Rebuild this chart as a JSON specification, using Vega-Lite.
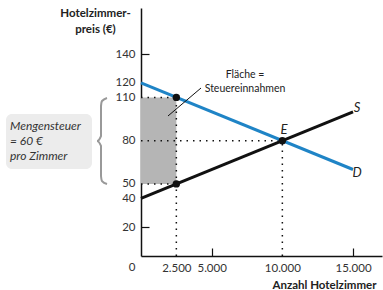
{
  "$schema": "https://vega.github.io/schema/vega-lite/v6.json",
  "width": 241,
  "height": 248,
  "autosize": {"type": "none"},
  "padding": {"left": 141, "top": 8, "right": 1, "bottom": 34},
  "config": {
    "view": {"stroke": null},
    "font": "Lato",
    "axis": {"grid": false, "domainColor": "#111", "domainWidth": 1.5, "labelFont": "Lato", "labelFontSize": 11.5, "labelColor": "#333", "tickWidth": 1.2, "tickSize": -8, "labelPadding": 14, "labelFlush": false, "labelOverlap": false, "titleFont": "Lato", "titleFontSize": 11.5, "titleFontWeight": "bold", "titleColor": "#222"}
  },
  "encoding": {
    "x": {"field": "x", "type": "quantitative", "scale": {"domain": [0, 17050], "nice": false},
      "axis": {"values": [2500, 5000, 10000, 15000], "labelOverlap": false, "labelExpr": "replace(format(datum.value, ',d'), ',', '.')",
        "tickColor": {"condition": {"test": "datum.value == 5000 || datum.value == 15000", "value": "#111"}, "value": "transparent"},
        "title": "Anzahl Hotelzimmer", "titleAnchor": "end", "titleAlign": "right", "titleX": 235, "titleY": 29, "titleBaseline": "middle"}},
    "y": {"field": "y", "type": "quantitative", "scale": {"domain": [0, 172], "nice": false},
      "axis": {"values": [0, 20, 40, 50, 80, 110, 120, 140], "labelOverlap": false,
        "labelOffset": {"condition": {"test": "datum.value == 0", "value": 11}, "value": 0},
        "tickColor": {"condition": {"test": "datum.value == 140 || datum.value == 20", "value": "#111"}, "value": "transparent"},
        "title": ["Hotelzimmer-", "preis (€)"], "titleAngle": 0, "titleAlign": "center", "titleBaseline": "top", "titleX": -46, "titleY": -1, "titleLineHeight": 16}}
  },
  "layer": [
    {
      "data": {"values": [{"x": 0, "x2": 2500, "y": 50, "y2": 110}]},
      "mark": {"type": "rect", "fill": "#b5b5b5"},
      "encoding": {"x2": {"field": "x2"}, "y2": {"field": "y2"}}
    },
    {
      "data": {"values": [
        {"x": 0, "x2": 2500, "y": 110, "y2": 110},
        {"x": 0, "x2": 2500, "y": 50, "y2": 50},
        {"x": 2500, "x2": 2500, "y": 0, "y2": 110},
        {"x": 0, "x2": 10000, "y": 80, "y2": 80},
        {"x": 10000, "x2": 10000, "y": 0, "y2": 80}
      ]},
      "mark": {"type": "rule", "color": "#111", "strokeWidth": 1.5, "strokeDash": [1.5, 5]},
      "encoding": {"x2": {"field": "x2"}, "y2": {"field": "y2"}}
    },
    {
      "data": {"values": [{"x": -9551, "x2": -3467, "y": 60.3, "y2": 98.5}]},
      "mark": {"type": "rect", "fill": "#ececec", "cornerRadius": 6},
      "encoding": {"x2": {"field": "x2"}, "y2": {"field": "y2"}}
    },
    {
      "data": {"values": [
        {"i": 1, "x": -2405, "y": 109.6},
        {"i": 2, "x": -2759, "y": 107.5},
        {"i": 3, "x": -2830, "y": 104.0},
        {"i": 4, "x": -2830, "y": 83.2},
        {"i": 5, "x": -3113, "y": 79.8},
        {"i": 6, "x": -2830, "y": 76.3},
        {"i": 7, "x": -2830, "y": 55.5},
        {"i": 8, "x": -2759, "y": 52.0},
        {"i": 9, "x": -2405, "y": 49.9}
      ]},
      "mark": {"type": "line", "color": "#999", "strokeWidth": 2, "interpolate": "monotone"},
      "encoding": {"order": {"field": "i"}}
    },
    {
      "data": {"values": [
        {"s": "D", "x": 0, "y": 120},
        {"s": "D", "x": 15000, "y": 60},
        {"s": "S", "x": 0, "y": 40},
        {"s": "S", "x": 15000, "y": 100}
      ]},
      "mark": {"type": "line", "strokeWidth": 3},
      "encoding": {
        "color": {"field": "s", "type": "nominal", "scale": {"domain": ["D", "S"], "range": ["#1f84c6", "#111111"]}, "legend": null}
      }
    },
    {
      "data": {"values": [{"x": 1910, "y": 97.1, "x2": 4245, "y2": 116.5}]},
      "mark": {"type": "rule", "color": "#111", "strokeWidth": 1},
      "encoding": {"x2": {"field": "x2"}, "y2": {"field": "y2"}}
    },
    {
      "data": {"values": [{"x": 2500, "y": 110}, {"x": 2500, "y": 50}, {"x": 10000, "y": 80}]},
      "mark": {"type": "point", "filled": true, "color": "#111", "size": 55, "opacity": 1},
      "encoding": {}
    },
    {
      "data": {"values": [
        {"t": "Fläche =", "x": 7358, "y": 125.5},
        {"t": "Steuereinnahmen", "x": 7358, "y": 115.8}
      ]},
      "mark": {"type": "text", "fontSize": 10.5, "color": "#222", "align": "center", "baseline": "middle"},
      "encoding": {"text": {"field": "t"}}
    },
    {
      "data": {"values": [
        {"t": "S", "x": 15284, "y": 102.6},
        {"t": "D", "x": 15284, "y": 57.6},
        {"t": "E", "x": 10117, "y": 87.4}
      ]},
      "mark": {"type": "text", "fontSize": 13, "fontStyle": "italic", "color": "#222", "align": "center", "baseline": "middle"},
      "encoding": {"text": {"field": "t"}}
    },
    {
      "data": {"values": [
        {"t": "Mengensteuer", "x": -9268, "y": 90.2},
        {"t": "= 60 €", "x": -9268, "y": 79.8},
        {"t": "pro Zimmer", "x": -9268, "y": 69.4}
      ]},
      "mark": {"type": "text", "fontSize": 12, "fontStyle": "italic", "color": "#333", "align": "left", "baseline": "middle"},
      "encoding": {"text": {"field": "t"}}
    }
  ]
}
